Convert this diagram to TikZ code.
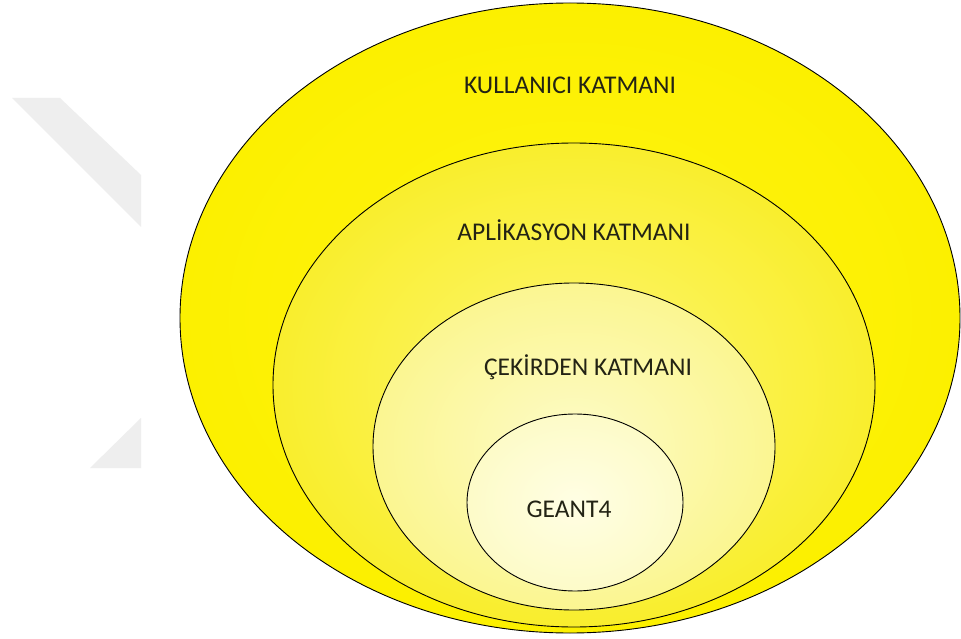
\documentclass[tikz,border=0pt]{standalone}
\usepackage{fontspec}
\setmainfont{Carlito}
\definecolor{wm}{RGB}{238,238,238}
\definecolor{yA}{RGB}{252,240,0}
\definecolor{yAin}{RGB}{255,244,20}
\definecolor{yB}{RGB}{249,238,45}
\definecolor{yBin}{RGB}{252,246,115}
\definecolor{yC}{RGB}{251,246,145}
\definecolor{yCin}{RGB}{253,251,200}
\definecolor{yD}{RGB}{253,251,200}
\definecolor{yDin}{RGB}{255,254,228}
\definecolor{txt}{RGB}{35,35,20}
\tikzset{
  layer/.style={draw=black, line width=0.9pt},
  lbl/.style={font=\fontsize{25.5}{30}\selectfont, text=txt, inner sep=0pt}
}
\begin{document}
\begin{tikzpicture}[x=1pt,y=-1pt]
\useasboundingbox (0,0) rectangle (961,639);
\fill[white] (0,0) rectangle (961,639);
% watermark chevron
\fill[wm] (12,98) -- (60,98) -- (141,175) -- (141,227) -- cycle;
\fill[wm] (141,418) -- (90,468) -- (141,468) -- cycle;
% layers
\path[layer, inner color=yAin, outer color=yA] (570,318) ellipse [x radius=390, y radius=315];
\path[layer, inner color=yBin, outer color=yB] (574,385) ellipse [x radius=301, y radius=242];
\path[layer, inner color=yCin, outer color=yC] (574,446.5) ellipse [x radius=201, y radius=163.5];
\path[layer, inner color=yDin, outer color=yD] (575,502.5) ellipse [x radius=108, y radius=88.5];
% labels
\node[lbl] (kul) at (570,85) {KULLANICI KATMANI};
\node[lbl] (apl) at (574,230) {APLİKASYON KATMANI};
\node[lbl] (cek) at (588,367) {ÇEKİRDEN KATMANI};
\node[lbl] (gea) at (569,509) {GEANT4};
\end{tikzpicture}
\end{document}
